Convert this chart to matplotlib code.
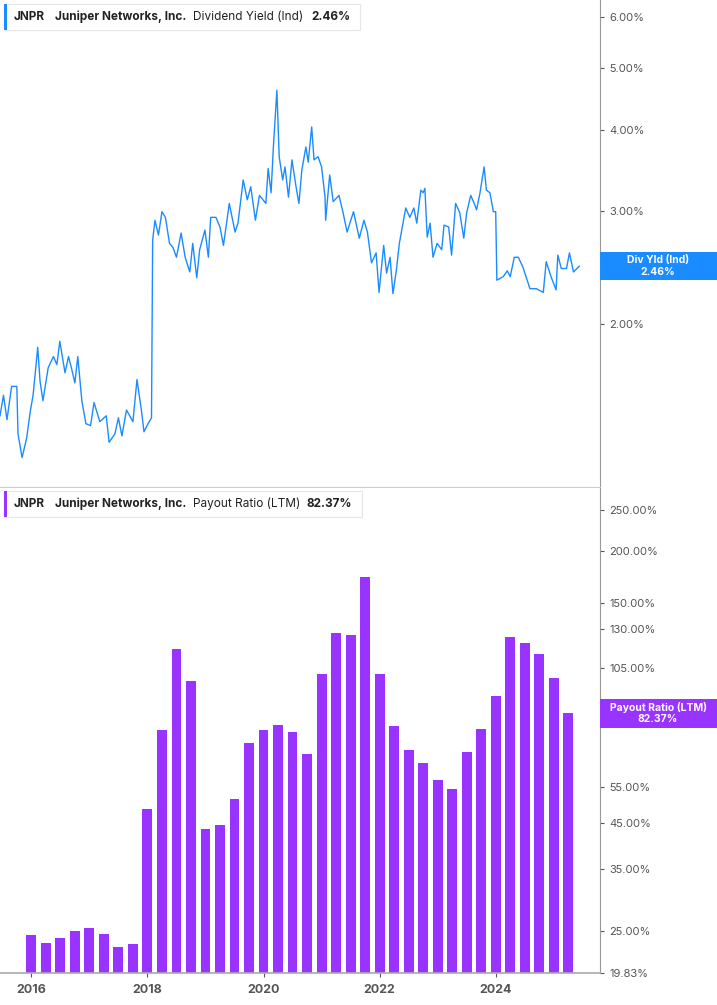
import matplotlib.pyplot as plt
from matplotlib.patches import Rectangle
import numpy as np

plt.rcParams['font.family'] = 'Inter'

# ---- data ----
yield_dates = [2015.46, 2015.52, 2015.58, 2015.66, 2015.75, 2015.77, 2015.84, 2015.92, 2015.98, 2016.03,
               2016.11, 2016.15, 2016.20, 2016.29, 2016.38, 2016.44, 2016.49, 2016.58, 2016.64, 2016.69,
               2016.75, 2016.80, 2016.87, 2016.94, 2017.02, 2017.08, 2017.18, 2017.29, 2017.34, 2017.44,
               2017.50, 2017.56, 2017.64, 2017.75, 2017.82, 2017.90, 2017.94, 2018.01, 2018.07, 2018.09,
               2018.13, 2018.19, 2018.25, 2018.31, 2018.38, 2018.44, 2018.50, 2018.58, 2018.65, 2018.73,
               2018.78, 2018.85, 2018.90, 2018.99, 2019.05, 2019.09, 2019.18, 2019.25, 2019.31, 2019.41,
               2019.51, 2019.56, 2019.65, 2019.72, 2019.78, 2019.86, 2019.93, 2020.04, 2020.08, 2020.13,
               2020.17, 2020.23, 2020.27, 2020.33, 2020.37, 2020.43, 2020.49, 2020.56, 2020.61, 2020.66,
               2020.73, 2020.77, 2020.83, 2020.87, 2020.94, 2021.00, 2021.06, 2021.07, 2021.14, 2021.20,
               2021.30, 2021.37, 2021.44, 2021.55, 2021.65, 2021.73, 2021.79, 2021.86, 2021.94, 2021.99,
               2022.07, 2022.12, 2022.18, 2022.23, 2022.29, 2022.34, 2022.45, 2022.52, 2022.59, 2022.64,
               2022.71, 2022.75, 2022.78, 2022.82, 2022.87, 2022.92, 2022.99, 2023.07, 2023.11, 2023.19,
               2023.24, 2023.31, 2023.38, 2023.45, 2023.50, 2023.57, 2023.63, 2023.67, 2023.73, 2023.80,
               2023.84, 2023.90, 2023.96, 2024.00, 2024.02, 2024.13, 2024.20, 2024.25, 2024.32, 2024.39,
               2024.47, 2024.59, 2024.70, 2024.82, 2024.87, 2024.96, 2025.04, 2025.07, 2025.13, 2025.22,
               2025.27, 2025.34, 2025.44]
yield_vals = [1.44, 1.55, 1.42, 1.60, 1.60, 1.35, 1.24, 1.33, 1.46, 1.55,
              1.84, 1.63, 1.52, 1.71, 1.78, 1.73, 1.88, 1.68, 1.78, 1.71,
              1.62, 1.78, 1.52, 1.40, 1.39, 1.51, 1.41, 1.44, 1.31, 1.35,
              1.43, 1.34, 1.47, 1.41, 1.64, 1.46, 1.36, 1.40, 1.43, 2.70,
              2.90, 2.75, 2.99, 2.93, 2.67, 2.63, 2.54, 2.77, 2.54, 2.41,
              2.67, 2.36, 2.61, 2.80, 2.54, 2.93, 2.93, 2.83, 2.65, 3.08,
              2.78, 2.87, 3.35, 3.12, 3.27, 2.90, 3.17, 3.08, 3.49, 3.20,
              3.77, 4.62, 3.64, 3.35, 3.51, 3.15, 3.60, 3.27, 3.08, 3.47,
              3.77, 3.57, 4.05, 3.60, 3.64, 3.51, 3.15, 2.90, 3.41, 3.10,
              3.17, 2.98, 2.78, 2.99, 2.72, 2.90, 2.78, 2.49, 2.58, 2.24,
              2.65, 2.40, 2.54, 2.23, 2.43, 2.67, 3.03, 2.93, 3.03, 2.87,
              3.23, 3.20, 3.25, 2.73, 2.87, 2.54, 2.67, 2.61, 2.85, 2.83,
              2.56, 3.08, 2.98, 2.72, 2.98, 3.17, 3.08, 3.01, 3.20, 3.51,
              3.23, 3.20, 2.99, 2.99, 2.34, 2.37, 2.42, 2.37, 2.54, 2.54,
              2.45, 2.27, 2.27, 2.24, 2.50, 2.36, 2.26, 2.56, 2.44, 2.44,
              2.58, 2.41, 2.46]

payout_dates = [2016.0 + 0.25 * i for i in range(38)]
payout_vals = [24.4, 23.4, 24.0, 25.0, 25.4, 24.6, 22.9, 23.2, 48.7, 75.0,
               117.0, 98.0, 43.6, 44.6, 51.4, 69.8, 75.0, 77.0, 74.1, 65.8,
               101.7, 127.6, 126.0, 173.0, 101.7, 76.6, 67.2, 62.6, 57.1, 54.3,
               66.5, 75.4, 90.2, 124.7, 120.8, 113.8, 99.7, 82.37]

yield_ticks = [2.0, 3.0, 4.0, 5.0, 6.0]
payout_ticks = [19.83, 25, 35, 45, 55, 80, 105, 130, 150, 200, 250]
year_ticks = [2016, 2018, 2020, 2022, 2024]

BLUE = '#1a8cff'
PURPLE = '#9933ff'
GREY = '#555555'

fig = plt.figure(figsize=(7.17, 10.05), dpi=100)
W, H = 717, 1005
def rect(l, t, r, b):
    return [l / W, 1 - b / H, (r - l) / W, (b - t) / H]

# ---- top: dividend yield ----
ax1 = fig.add_axes(rect(0, 0, 599.6, 487))
ax1.plot(yield_dates, yield_vals, color=BLUE, lw=1.0)
ax1.set_yscale('log')
ax1.set_ylim(1.116, 6.38)
ax1.set_xlim(2015.46, 2025.79)
ax1.yaxis.tick_right()
ax1.set_yticks(yield_ticks)
ax1.set_yticklabels([f'{v:.2f}%' for v in yield_ticks])
ax1.yaxis.set_minor_locator(plt.NullLocator())
ax1.set_xticks([])
for s in ['top', 'left']:
    ax1.spines[s].set_visible(False)
ax1.spines['right'].set_color('#999999')
ax1.spines['bottom'].set_color('#cccccc')
ax1.tick_params(axis='y', length=3, color=GREY, labelcolor=GREY, labelsize=8, pad=4)

# ---- bottom: payout ratio ----
ax2 = fig.add_axes(rect(0, 488, 599.6, 973))
ax2.bar(payout_dates, payout_vals, width=0.17, color=PURPLE, bottom=0.01)
ax2.set_yscale('log')
ax2.set_ylim(19.83, 281.7)
ax2.set_xlim(2015.46, 2025.79)
ax2.yaxis.tick_right()
ax2.set_yticks(payout_ticks)
ax2.set_yticklabels([f'{v:.2f}%' for v in payout_ticks])
ax2.yaxis.set_minor_locator(plt.NullLocator())
ax2.set_xticks(year_ticks)
ax2.set_xticklabels([str(y) for y in year_ticks])
for s in ['top', 'left']:
    ax2.spines[s].set_visible(False)
ax2.spines['right'].set_color('#999999')
ax2.spines['bottom'].set_color('#aaaaaa')
ax2.spines['bottom'].set_linewidth(1.2)
ax2.tick_params(axis='y', length=3, color=GREY, labelcolor=GREY, labelsize=8, pad=4)
ax2.tick_params(axis='x', length=3, color=GREY, labelcolor=GREY, labelsize=9, pad=5)
for t in ax2.get_xticklabels():
    t.set_fontweight('bold')

# ---- header boxes ----
def header(top, color, metric, value, right):
    y = 1 - (top + 14) / H
    fig.patches.append(Rectangle((4 / W, 1 - (top + 27) / H), (right - 4) / W, 26 / H,
                                 transform=fig.transFigure, facecolor='white',
                                 edgecolor='#e6e6e6', lw=0.8))
    fig.patches.append(Rectangle((4 / W, 1 - (top + 27) / H), 3 / W, 26 / H,
                                 transform=fig.transFigure, facecolor=color, edgecolor='none'))
    fig.text(14 / W, y, 'JNPR', fontsize=8.5, fontweight='bold', va='center', color='#222222')
    fig.text(55 / W, y, 'Juniper Networks, Inc.', fontsize=8.5, fontweight='bold', va='center', color='#222222')
    fig.text(193 / W, y, metric, fontsize=8.5, va='center', color='#222222')
    fig.text((right - 10) / W, y, value, fontsize=8.5, fontweight='bold', va='center', ha='right', color='#222222')

header(3, BLUE, 'Dividend Yield (Ind)', '2.46%', 360)
header(490, PURPLE, 'Payout Ratio (LTM)', '82.37%', 362)

# ---- right value tags ----
def tag(top, bottom, color, line1, line2):
    fig.patches.append(Rectangle((600 / W, 1 - bottom / H), 117 / W, (bottom - top) / H,
                                 transform=fig.transFigure, facecolor=color, edgecolor='none'))
    mid = (top + bottom) / 2
    fig.text(658 / W, 1 - (mid - 6) / H, line1, fontsize=7.5, fontweight='bold', color='white', ha='center', va='center')
    fig.text(658 / W, 1 - (mid + 6) / H, line2, fontsize=7.5, fontweight='bold', color='white', ha='center', va='center')

tag(252, 280, BLUE, 'Div Yld (Ind)', '2.46%')
tag(699, 728, PURPLE, 'Payout Ratio (LTM)', '82.37%')

fig.savefig('out.png', dpi=100, facecolor='white')
